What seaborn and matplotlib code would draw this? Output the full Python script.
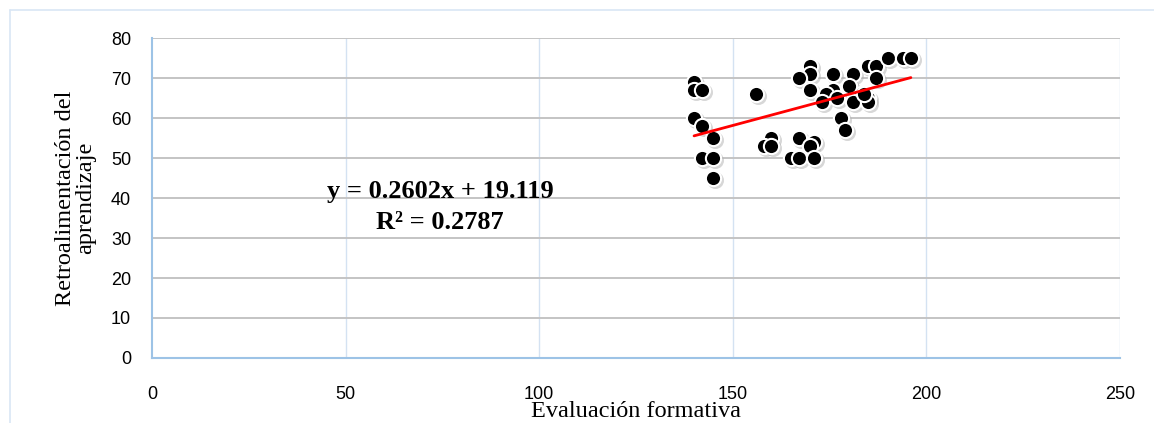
import matplotlib
matplotlib.use("Agg")
import matplotlib.pyplot as plt
import numpy as np
import pandas as pd
import seaborn as sns
from matplotlib.lines import Line2D

# datos
evaluacion = [140, 140, 142, 140, 142, 145, 142, 145, 145, 156, 160, 158, 160,
              165, 167, 167, 171, 170, 171, 170, 170, 167, 170, 176, 176, 174,
              173, 177, 180, 181, 183, 181, 185, 185, 178, 179, 185, 187, 187,
              190, 194, 196, 180, 184]
retroalimentacion = [69, 67, 67, 60, 58, 55, 50, 50, 45, 66, 55, 53, 53,
                     50, 50, 55, 54, 53, 50, 73, 71, 70, 67, 71, 67, 66,
                     64, 65, 68, 71, 66, 64, 65, 64, 60, 57, 73, 73, 70,
                     75, 75, 75, 68, 66]
pendiente = 0.2602
intercepto = 19.119
r2 = 0.2787

df = pd.DataFrame({"x": evaluacion, "y": retroalimentacion})

sns.set_style("white")
plt.rcParams["text.color"] = "black"
plt.rcParams["xtick.color"] = "black"
plt.rcParams["ytick.color"] = "black"
plt.rcParams["axes.labelcolor"] = "black"
fig = plt.figure(figsize=(11.54, 4.23), dpi=100)
ax = fig.add_axes([0.1317, 0.1537, 0.8388, 0.7563])

# sombra de los puntos
ax.scatter(df["x"] + 0.5, df["y"] - 0.6, s=150, color="#b0b0b0", alpha=0.5,
           linewidths=0, zorder=2)
sns.scatterplot(data=df, x="x", y="y", ax=ax, s=120, color="black",
                edgecolor="white", linewidth=1.5, zorder=3)

xs = np.array([min(evaluacion), max(evaluacion)])
ax.plot(xs, pendiente * xs + intercepto, color="red", lw=2, zorder=4)

ax.set_xlim(0, 250)
ax.set_ylim(0, 80)
ax.set_xticks(range(0, 251, 50))
ax.set_yticks(range(0, 81, 10))
ax.grid(False)
for v in range(50, 251, 50):
    ax.axvline(v, color="#d4e2f2", lw=1, zorder=0)
for v in range(10, 81, 10):
    ax.axhline(v, color="#c4c4c4", lw=1.4, zorder=0)
for s in ["top", "right"]:
    ax.spines[s].set_visible(False)
for s in ["left", "bottom"]:
    ax.spines[s].set_color("#9dc3e6")
    ax.spines[s].set_linewidth(1.5)
ax.tick_params(length=0, labelsize=13)
ax.tick_params(axis="x", pad=20)
ax.tick_params(axis="y", pad=15)
for lab in ax.get_xticklabels() + ax.get_yticklabels():
    lab.set_fontfamily("Liberation Sans")

ax.set_xlabel("Evaluación formativa", fontfamily="Liberation Serif",
              fontsize=17.5)
ax.set_ylabel("Retroalimentación del\naprendizaje", fontfamily="Liberation Serif",
              fontsize=17.5, linespacing=0.95)
ax.xaxis.set_label_coords(0.5, -0.135)
ax.yaxis.set_label_coords(-0.058, 0.5)

ax.text(74.4, 41.7, "y = 0.2602x + 19.119", ha="center", va="center",
        fontfamily="Liberation Serif", fontweight="bold", fontsize=19)
ax.text(74.4, 33.8, "R² = 0.2787", ha="center", va="center",
        fontfamily="Liberation Serif", fontweight="bold", fontsize=19)

# marco exterior
fig.add_artist(Line2D([10 / 1154, 1.0], [1 - 10 / 423, 1 - 10 / 423],
                      color="#d9e6f5", lw=1.2))
fig.add_artist(Line2D([10 / 1154, 10 / 1154], [0, 1 - 10 / 423],
                      color="#d9e6f5", lw=1.2))

fig.savefig("out.png", dpi=100)
